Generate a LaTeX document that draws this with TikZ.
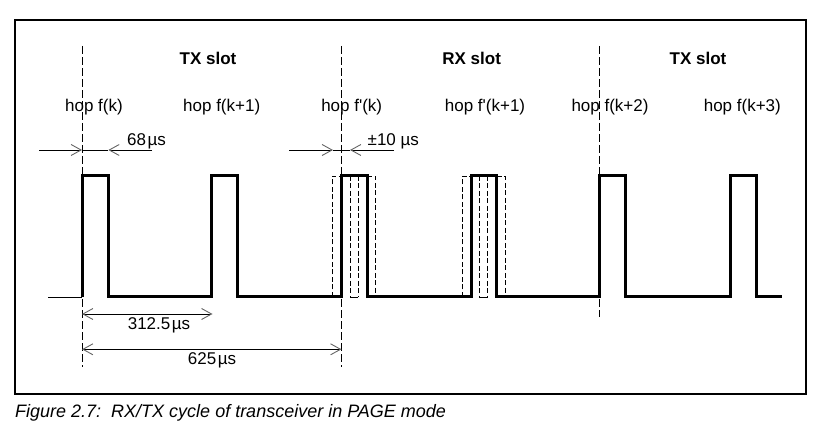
\documentclass[tikz,border=0pt]{standalone}
\usepackage{fontspec}
\setmainfont{Liberation Sans}[Ligatures=TeXOff]
\usetikzlibrary{arrows.meta}
\begin{document}
\begin{tikzpicture}[x=1pt,y=-1pt,
  lbl/.style={font=\fontsize{17}{20}\selectfont, inner sep=0pt},
  slotlbl/.style={font=\fontsize{17}{20}\selectfont\bfseries, inner sep=0pt},
  caplbl/.style={font=\fontsize{18}{21}\selectfont\itshape, inner sep=0pt, anchor=west},
  frame/.style={line width=2pt},
  guide/.style={line width=0.9pt, dash pattern=on 8pt off 3pt},
  wave/.style={line width=3pt, line join=miter},
  ghost/.style={line width=0.9pt, dash pattern=on 5pt off 2.5pt},
  shaft/.style={line width=0.9pt},
  tipend/.style={line width=0.9pt, -{Straight Barb[length=10pt,width=11pt,color=black!60,line width=0.9pt]}},
  dimboth/.style={line width=0.9pt, {Straight Barb[length=10pt,width=11pt,color=black!60,line width=0.9pt]}-{Straight Barb[length=10pt,width=11pt,color=black!60,line width=0.9pt]}},
]
\useasboundingbox (0,0) rectangle (827,438);

% frame
\draw[frame] (15,20) rectangle (806,394);

% slot boundaries
\coordinate (g1t) at (82,46);  \coordinate (g1b) at (82,367);
\coordinate (g2t) at (341.5,46); \coordinate (g2b) at (341.5,367);
\coordinate (g3t) at (599,46); \coordinate (g3b) at (599,317);
\draw[guide] (g1t) -- (g1b);
\draw[guide] (g2t) -- (g2b);
\draw[guide] (g3t) -- (g3b);

% slot titles
\node[slotlbl] (tx1) at (208,58) {TX slot};
\node[slotlbl] (rx1) at (471.7,58) {RX slot};
\node[slotlbl] (tx2) at (698,58) {TX slot};

% hop labels
\node[lbl] (h1) at (94,107) {hop f(k)};
\node[lbl] (h2) at (221.7,107) {hop f(k+1)};
\node[lbl] (h3) at (351.7,107) {hop f'(k)};
\node[lbl] (h4) at (485,107) {hop f'(k+1)};
\node[lbl] (h5) at (610,107) {hop f(k+2)};
\node[lbl] (h6) at (742.3,107) {hop f(k+3)};

% 68 us marker
\coordinate (m1a) at (39,150); \coordinate (m1b) at (82,150);
\coordinate (m1c) at (108.3,150); \coordinate (m1d) at (152,150);
\draw[tipend] (m1a) -- (m1b);
\draw[shaft] (m1b) -- (m1c);
\draw[tipend] (m1d) -- (m1c);
\node[lbl, anchor=west] (l68) at (127,141.5) {68\kern1.5ptµs};

% +-10 us marker
\coordinate (m2a) at (289,150); \coordinate (m2b) at (333,150);
\coordinate (m2c) at (350,150); \coordinate (m2d) at (394,150);
\draw[tipend] (m2a) -- (m2b);
\draw[shaft] (m2b) -- (m2c);
\draw[tipend] (m2d) -- (m2c);
\node[lbl, anchor=west] (l10) at (367.5,141.5) {±10 µs};

% waveform
\coordinate (w0) at (48,297);
\coordinate (w1) at (82,297);
\draw[shaft] (w0) -- (w1);
\draw[wave] (w1) -- (82,176) -- (108.3,176) -- (108.3,297)
  -- (211,297) -- (211,176) -- (237.6,176) -- (237.6,297)
  -- (341.5,297) -- (341.5,176) -- (367.3,176) -- (367.3,297)
  -- (471.7,297) -- (471.7,176) -- (496.8,176) -- (496.8,297)
  -- (599,297) -- (599,176) -- (625.4,176) -- (625.4,297)
  -- (730,297) -- (730,176) -- (756.6,176) -- (756.6,297)
  -- (782,297);

% ghost pulses (+-10 us) around RX pulse 1
\draw[ghost] (332.4,297) -- (332.4,176) -- (341.5,176);
\draw[ghost] (367.3,176) -- (375.3,176) -- (375.3,297);
\draw[ghost] (350,176) -- (350,297);
\draw[ghost] (358.4,176) -- (358.4,297);
\draw[shaft] (350,297) -- (358.4,297);
% ghost pulses around RX pulse 2
\draw[ghost] (462.8,297) -- (462.8,176) -- (471.7,176);
\draw[ghost] (496.8,176) -- (505,176) -- (505,297);
\draw[ghost] (479.4,176) -- (479.4,297);
\draw[ghost] (487.8,176) -- (487.8,297);
\draw[shaft] (479.4,297) -- (487.8,297);

% 312.5 us dimension
\coordinate (d1a) at (82,314); \coordinate (d1b) at (212.5,314);
\draw[dimboth] (d1a) -- (d1b);
\node[lbl] (l312) at (159,325.5) {312.5\kern1.5ptµs};

% 625 us dimension
\coordinate (d2a) at (82,349.3); \coordinate (d2b) at (341.5,349.3);
\draw[dimboth] (d2a) -- (d2b);
\node[lbl] (l625) at (212,360) {625\kern1.5ptµs};

% caption
\node[caplbl] (cap) at (15,413) {Figure 2.7:\ \ RX/TX cycle of transceiver in PAGE mode};
\end{tikzpicture}
\end{document}
